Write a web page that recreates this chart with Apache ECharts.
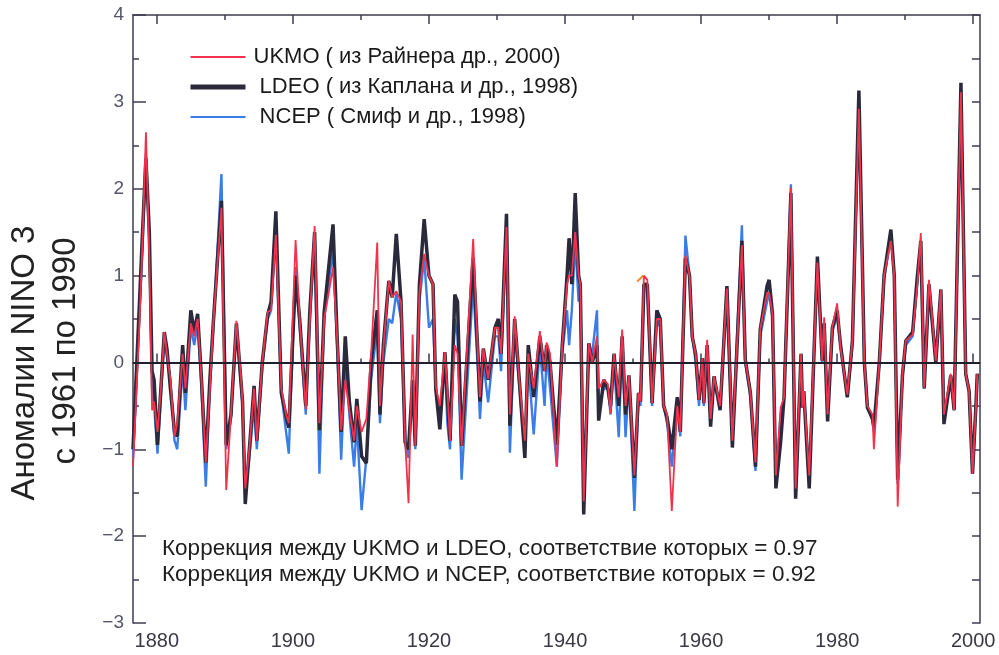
<!DOCTYPE html>
<html>
<head>
    <meta charset="utf-8">
    <title>NINO 3</title>
    <script src="https://cdn.jsdelivr.net/npm/echarts@6/dist/echarts.min.js"></script>
</head>
<body style="margin:0;background:#fff;">
    <div id="main" style="width: 999px;height:655px;"></div>
    <script type="text/javascript">

    // годы (точки излома кривых)
    var years = [
        1876.5, 1877.4, 1877.9, 1878.4, 1878.9, 1879.3, 1879.6, 1880.1, 1880.6, 1881.1, 1881.5, 1882.0, 1882.6, 1883.0, 1883.8, 1884.2, 1885.0, 1885.5, 1886.0, 1886.5, 1887.2, 1887.8, 1888.3, 1889.5,
        1890.2, 1890.9, 1891.7, 1892.3, 1892.6, 1893.0, 1893.6, 1894.3, 1894.7, 1895.5, 1896.3, 1896.8, 1897.5, 1898.3, 1899.0, 1899.4,
        1900.4, 1901.0, 1901.9, 1902.5, 1903.2, 1903.9, 1904.6, 1905.9, 1906.5, 1907.1, 1907.7, 1908.3, 1909.0, 1909.4,
        1910.1, 1910.8, 1911.5, 1912.4, 1912.8, 1913.3, 1914.1, 1914.6, 1915.2, 1915.9, 1916.5, 1917.0, 1917.6, 1918.0, 1918.6, 1919.3,
        1920.0, 1920.6, 1921.0, 1921.6, 1922.35, 1922.7, 1923.1, 1923.8, 1924.2, 1924.8, 1926.5, 1927.2, 1927.5, 1928.0, 1928.7, 1929.7,
        1930.2, 1930.6, 1931.4, 1931.9, 1932.6, 1933.3, 1934.1, 1934.6, 1935.4, 1936.3, 1937.0, 1937.3, 1937.8, 1938.8, 1939.6,
        1940.3, 1940.6, 1941.0, 1941.5, 1942.0, 1942.25, 1942.75, 1943.5, 1944.0, 1944.7, 1944.95, 1945.7, 1946.3, 1946.7, 1947.2, 1947.9, 1948.4, 1948.9, 1949.4,
        1950.2, 1950.8, 1951.1, 1951.6, 1952.1, 1952.8, 1953.5, 1954.0, 1954.5, 1955.0, 1955.7, 1956.5, 1956.95, 1957.7, 1958.3, 1958.7, 1959.2, 1959.7,
        1960.2, 1960.4, 1960.9, 1961.4, 1961.9, 1962.8, 1963.8, 1964.6, 1966.0, 1966.5, 1967.25, 1968.0, 1968.7, 1969.7,
        1970.0, 1970.5, 1971.0, 1971.7, 1972.2, 1973.2, 1973.9, 1974.7, 1974.9, 1975.1, 1975.9, 1977.1, 1977.8, 1978.1, 1978.6, 1979.3,
        1980.0, 1980.5, 1981.5, 1982.25, 1983.2, 1984.0, 1984.45, 1985.2, 1985.4, 1986.2, 1986.9, 1987.9, 1988.4, 1988.9, 1989.6,
        1990.1, 1991.1, 1991.8, 1992.3, 1992.8, 1993.5, 1994.5, 1995.25, 1995.7, 1996.7, 1997.2, 1998.2, 1998.9, 1999.4, 1999.9, 2000.4, 2000.6
    ];

    // UKMO (красная)
    var ukmo = [
        -1.2, 0.35, 1.4, 2.65, 1.2, -0.55, -0.45, -0.8, -0.3, 0.35, 0.1, -0.2, -0.85, -0.7, 0.1, -0.3, 0.45, 0.3, 0.5, -0.1, -1.15, -0.3, 0.45, 1.78,
        -1.47, -0.6, 0.48, -0.1, -0.45, -1.45, -1.0, -0.3, -0.9, 0.0, 0.58, 0.6, 1.47, -0.3, -0.6, -0.7,
        1.41, 0.5, -0.54, 0.5, 1.57, -0.7, 0.5, 1.09, 0.3, -0.78, -0.2, -0.55, -0.9, -0.5,
        -0.8, -0.65, 0.1, 1.38, -0.5, 0.16, 0.94, 0.75, 0.82, 0.7, -0.9, -1.62, 0.32, -0.96, 0.8, 1.25,
        1.0, 0.9, -0.27, -0.5, 0.12, -0.3, -0.9, 0.2, 0.1, -0.96, 1.42, 0.1, -0.4, 0.16, -0.19, 0.4,
        0.4, 0.1, 1.56, -0.6, 0.53, -0.22, -0.9, 0.1, -0.3, 0.36, -0.1, 0.23, 0.1, -1.2, 0.2,
        0.9, 1.0, 1.0, 1.5, 1.0, 0.9, -1.6, 0.22, 0.0, 0.3, -0.3, -0.2, -0.25, -0.59, 0.1, -0.4, 0.38, -0.5, -0.15,
        -1.3, -0.35, -0.45, 1.0, 0.95, -0.47, 0.5, 0.5, -0.5, -0.6, -1.71, -0.5, -0.8, 1.23, 1.0, 0.3, 0.1, -0.43,
        0.05, -0.47, 0.26, -0.65, -0.16, -0.5, 0.85, -0.9, 1.35, 0.03, -0.35, -1.15, 0.38, 0.8,
        0.8, 0.56, -1.3, -0.52, -0.4, 2.01, -1.45, 0.1, -0.52, -0.33, -1.3, 1.15, 0.02, 0.52, -0.6, 0.41,
        0.68, 0.17, -0.37, 0.25, 2.92, 0.0, -0.5, -0.6, -1.0, 0.0, 1.0, 1.4, 1.0, -1.66, -0.13,
        0.25, 0.32, 0.9, 1.49, -0.29, 0.95, 0.02, 0.84, -0.6, -0.13, -0.55, 3.11, -0.13, -0.33, -1.28, -0.52, -0.13
    ];

    // LDEO (тёмная)
    var ldeo = [
        -1.0, 0.6, 1.5, 2.35, 1.5, -0.1, -0.2, -0.95, -0.3, 0.35, 0.15, -0.3, -0.8, -0.85, 0.2, -0.35, 0.6, 0.35, 0.56, -0.1, -1.15, -0.2, 0.45, 1.86,
        -0.95, -0.6, 0.45, -0.15, -0.45, -1.63, -1.0, -0.27, -0.9, 0.0, 0.55, 0.7, 1.74, -0.35, -0.62, -0.75,
        1.0, 0.5, -0.5, 0.6, 1.5, -0.78, 0.58, 1.59, 0.3, -0.8, 0.3, -0.45, -0.92, -0.42,
        -1.08, -1.16, 0.0, 0.6, -0.6, 0.2, 0.94, 0.75, 1.48, 0.7, -0.92, -1.0, -0.2, -0.96, 0.9, 1.65,
        1.0, 0.9, -0.3, -0.77, 0.12, -0.4, -0.9, 0.78, 0.7, -0.96, 1.2, 0.1, -0.45, 0.16, -0.2, 0.4,
        0.5, 0.1, 1.71, -0.73, 0.5, -0.22, -1.1, 0.2, -0.4, 0.3, -0.1, 0.2, 0.0, -0.95, 0.2,
        1.0, 1.43, 0.9, 1.95, 1.0, 0.9, -1.75, 0.22, 0.0, 0.2, -0.67, -0.2, -0.3, -0.5, 0.1, -0.5, 0.3, -0.6, -0.15,
        -1.33, -0.35, -0.45, 0.9, 0.9, -0.47, 0.6, 0.5, -0.5, -0.63, -1.0, -0.4, -0.8, 1.2, 1.0, 0.3, 0.1, -0.43,
        0.05, -0.47, 0.2, -0.74, -0.16, -0.55, 0.88, -0.98, 1.4, 0.03, -0.35, -1.2, 0.38, 0.88,
        0.95, 0.56, -1.45, -0.91, -0.4, 1.95, -1.57, 0.1, -0.52, -0.33, -1.45, 1.22, 0.02, 0.45, -0.68, 0.4,
        0.6, 0.2, -0.4, 0.25, 3.13, 0.0, -0.52, -0.65, -0.75, 0.0, 1.0, 1.53, 1.0, -1.35, -0.15,
        0.25, 0.35, 1.0, 1.4, -0.3, 0.9, 0.0, 0.84, -0.71, -0.15, -0.55, 3.22, -0.13, -0.33, -1.28, -0.5, -0.13
    ];

    // NCEP (синяя)
    var ncep = [
        -1.1, 0.5, 1.3, 2.4, 1.4, -0.3, -0.5, -1.05, -0.4, 0.3, 0.05, -0.2, -0.9, -1.0, -0.05, -0.55, 0.4, 0.2, 0.45, -0.2, -1.43, -0.3, 0.4, 2.17,
        -1.0, -0.65, 0.4, -0.2, -0.5, -1.5, -1.1, -0.5, -1.0, -0.05, 0.5, 0.6, 1.5, -0.35, -0.8, -1.05,
        1.1, 0.4, -0.6, 0.5, 1.5, -1.28, 0.5, 1.3, 0.2, -1.12, 0.0, -0.6, -1.2, -0.7,
        -1.7, -1.1, -0.2, 0.4, -0.7, 0.0, 0.5, 0.45, 0.8, 0.5, -0.95, -1.1, -0.3, -1.0, 0.7, 1.2,
        0.4, 0.5, -0.3, -0.6, 0.0, -0.7, -1.0, 0.5, 0.3, -1.35, 0.9, -0.1, -0.65, 0.0, -0.46, 0.3,
        0.3, -0.1, 1.5, -1.04, 0.4, -0.3, -1.0, 0.0, -0.83, 0.2, -0.5, 0.1, -0.3, -1.2, 0.1,
        0.6, 0.2, 0.6, 1.4, 0.7, 0.9, -1.6, 0.2, 0.1, 0.6, -0.5, -0.3, -0.3, -0.6, 0.0, -0.86, 0.2, -0.86, -0.2,
        -1.71, -0.4, -0.5, 0.9, 0.9, -0.5, 0.5, 0.4, -0.5, -0.7, -1.2, -0.5, -0.85, 1.46, 1.0, 0.3, 0.0, -0.5,
        0.0, -0.5, 0.2, -0.7, -0.2, -0.5, 0.85, -0.95, 1.58, 0.0, -0.4, -1.25, 0.3, 0.7,
        0.8, 0.5, -1.4, -0.6, -0.4, 2.05, -1.5, 0.05, -0.5, -0.35, -1.35, 1.2, 0.0, 0.45, -0.6, 0.35,
        0.55, 0.2, -0.4, 0.2, 2.95, 0.0, -0.5, -0.67, -0.8, 0.0, 0.95, 1.45, 1.0, -1.4, -0.15,
        0.2, 0.3, 0.95, 1.4, -0.3, 0.9, 0.0, 0.8, -0.65, -0.15, -0.55, 3.15, -0.13, -0.33, -1.28, -0.5, -0.13
    ];

    // маленький оранжевый штрих около 1951 г.
    var orangeYears = [1950.6, 1951.5];
    var orangeVals = [0.93, 1.0];

    var xLabels = [1880, 1900, 1920, 1940, 1960, 1980, 2000];
    var xMinor = [1890, 1910, 1930, 1950, 1970, 1990];

    var names = ['UKMO ( из Райнера др., 2000)', ' LDEO ( из Каплана и др., 1998)', ' NCEP ( Смиф и др., 1998)'];
    var notes = [
        'Коррекция между UKMO и LDEO, соответствие которых = 0.97',
        'Коррекция между UKMO и NCEP, соответствие которых = 0.92'
    ];

    function pairs(xs, ys) {
        return xs.map(function (x, i) { return [x, ys[i]]; });
    }

    var FONT = '"Liberation Sans", Arial, sans-serif';
    var axisColor = '#3d3d50';
    var cRed = '#f2324c', cDark = '#2a2a3c', cBlue = '#3b7de6';

    var myChart = echarts.init(document.getElementById('main'));

    var option = {
        animation: false,
        backgroundColor: '#fff',
        grid: { left: 133, right: 19, top: 15, bottom: 32 },
        legend: {
            orient: 'vertical',
            left: 183,
            top: 41,
            itemWidth: 55,
            itemHeight: 14,
            itemGap: 8,
            // кружок-символ скрыт, остаётся только линия
            itemStyle: { opacity: 0 },
            data: [
                { name: names[0], lineStyle: { width: 2 } },
                { name: names[1], lineStyle: { width: 5 } },
                { name: names[2], lineStyle: { width: 2 } }
            ],
            textStyle: { fontSize: 22, fontFamily: FONT, color: '#1a1a1a', lineHeight: 22, padding: [0, 0, 0, 3] }
        },
        xAxis: [
            {
                type: 'value', min: 1876.5, max: 2001, position: 'bottom',
                axisLine: { lineStyle: { color: axisColor, width: 1.5 } },
                axisTick: { inside: true, length: 9, customValues: xLabels, lineStyle: { color: axisColor, width: 1.5 } },
                axisLabel: {
                    customValues: xLabels, fontSize: 20, fontFamily: FONT, color: '#3a3a46', margin: 8,
                    formatter: function (v) { return String(v); }
                },
                splitLine: { show: false }
            },
            {
                type: 'value', min: 1876.5, max: 2001, position: 'bottom',
                axisLine: { show: false },
                axisTick: { inside: true, length: 4, customValues: xMinor, lineStyle: { color: axisColor, width: 1.5 } },
                axisLabel: { show: false },
                splitLine: { show: false }
            },
            {
                type: 'value', min: 1876.5, max: 2001, position: 'top',
                axisLine: { lineStyle: { color: axisColor, width: 1.5 } },
                axisTick: { inside: true, length: 9, customValues: xLabels, lineStyle: { color: axisColor, width: 1.5 } },
                axisLabel: { show: false },
                splitLine: { show: false }
            },
            {
                type: 'value', min: 1876.5, max: 2001, position: 'top',
                axisLine: { show: false },
                axisTick: { inside: true, length: 5, customValues: xMinor, lineStyle: { color: axisColor, width: 1.5 } },
                axisLabel: { show: false },
                splitLine: { show: false }
            }
        ],
        yAxis: [
            {
                type: 'value', min: -3, max: 4, interval: 1, position: 'left',
                axisLine: { show: true, lineStyle: { color: axisColor, width: 1.5 } },
                axisTick: { show: true, inside: true, length: 13, lineStyle: { color: axisColor, width: 1.5 } },
                minorTick: { show: true, splitNumber: 2, length: 6, lineStyle: { color: axisColor, width: 1.5 } },
                axisLabel: {
                    fontSize: 19, fontFamily: FONT, color: '#55566a', margin: 9,
                    formatter: function (v) { return String(v).replace('-', '\u2212'); }
                },
                splitLine: { show: false }
            },
            {
                type: 'value', min: -3, max: 4, interval: 0.5, position: 'right',
                axisLine: { show: true, lineStyle: { color: axisColor, width: 1.5 } },
                axisTick: { show: true, inside: true, length: 8, lineStyle: { color: axisColor, width: 1.5 } },
                axisLabel: { show: false },
                splitLine: { show: false }
            }
        ],
        series: [
            {
                name: names[2], type: 'line', symbol: 'none', z: 2,
                data: pairs(years, ncep),
                lineStyle: { color: cBlue, width: 2.4 },
                itemStyle: { color: cBlue }
            },
            {
                name: names[1], type: 'line', symbol: 'none', z: 3,
                data: pairs(years, ldeo),
                lineStyle: { color: cDark, width: 3.5 },
                itemStyle: { color: cDark }
            },
            {
                name: names[0], type: 'line', symbol: 'none', z: 4,
                data: pairs(years, ukmo),
                lineStyle: { color: cRed, width: 1.8 },
                itemStyle: { color: cRed },
                markLine: {
                    silent: true,
                    symbol: ['none', 'none'],
                    label: { show: false },
                    lineStyle: { color: '#1e1e2c', width: 2, type: 'solid' },
                    data: [{ yAxis: 0 }]
                }
            },
            {
                name: 'orange', type: 'line', symbol: 'none', z: 5,
                data: pairs(orangeYears, orangeVals),
                lineStyle: { color: '#f08a30', width: 2 }
            }
        ],
        graphic: [
            {
                type: 'text', x: 25, y: 363, rotation: Math.PI / 2,
                style: { text: 'Аномалии NINO 3', fontSize: 33, fontFamily: FONT, fill: '#222', align: 'center', verticalAlign: 'middle' }
            },
            {
                type: 'text', x: 66, y: 351, rotation: Math.PI / 2,
                style: { text: 'с 1961 по 1990', fontSize: 33, fontFamily: FONT, fill: '#222', align: 'center', verticalAlign: 'middle' }
            },
            {
                type: 'text', left: 162, top: 536,
                style: { text: notes.join('\n'), fontSize: 22.5, lineHeight: 26, fontFamily: FONT, fill: '#1e1e1e' }
            }
        ]
    };

    myChart.setOption(option);
    </script>
</body>
</html>
